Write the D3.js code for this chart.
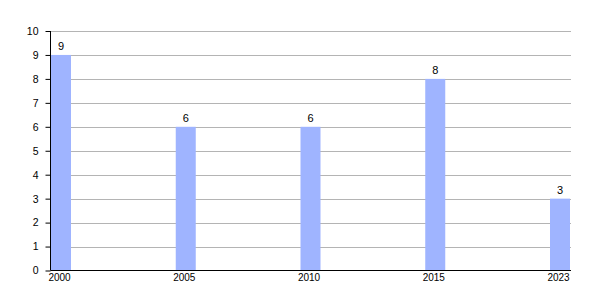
<!DOCTYPE html>
<html>
<head>
<meta charset="utf-8">
<script src="https://cdn.jsdelivr.net/npm/d3@7"></script>
<style>
  body { margin: 0; background: #fff; }
  text { font-family: "Liberation Sans", Arial, sans-serif; fill: #000; }
</style>
</head>
<body>
<svg id="chart" width="600" height="300"></svg>
<script>
const years = ["2000", "2005", "2010", "2015", "2023"];
const counts = [9, 6, 6, 8, 3];
const yTicks = [0, 1, 2, 3, 4, 5, 6, 7, 8, 9, 10];

const svg = d3.select('#chart');
const plotLeft = 50.5, plotRight = 571, plotTop = 31, plotBottom = 270.5;
const barWidth = 20;

const x = d3.scalePoint().domain(years).range([51, 550]);
const y = d3.scaleLinear().domain([0, 10]).range([plotBottom, plotTop]);

// gridlines
svg.append('g')
  .selectAll('line')
  .data(yTicks.filter(d => d > 0))
  .join('line')
  .attr('x1', plotLeft)
  .attr('x2', plotRight)
  .attr('y1', d => Math.round(y(d)) + 0.5)
  .attr('y2', d => Math.round(y(d)) + 0.5)
  .attr('stroke', '#b4b4b4')
  .attr('stroke-width', 1);

// bars
const data = years.map((yr, i) => ({ year: yr, value: counts[i] }));
svg.append('g')
  .selectAll('rect')
  .data(data)
  .join('rect')
  .attr('x', d => x(d.year))
  .attr('y', d => y(d.value))
  .attr('width', barWidth)
  .attr('height', d => y(0) - y(d.value))
  .attr('fill', '#9fb4ff');

// value labels
svg.append('g')
  .selectAll('text')
  .data(data)
  .join('text')
  .attr('x', d => x(d.year) + barWidth / 2)
  .attr('y', d => y(d.value) - 4.5)
  .attr('text-anchor', 'middle')
  .attr('font-size', 11)
  .text(d => d.value);

// y axis
const yAxis = svg.append('g')
  .attr('transform', `translate(${plotLeft},0)`)
  .call(d3.axisLeft(y).tickValues(yTicks).tickSize(5).tickPadding(7).tickFormat(d3.format('d')));
yAxis.select('.domain').attr('stroke', '#000').attr('d', `M0,${plotTop}V${plotBottom}`);
yAxis.selectAll('.tick line').attr('stroke', '#000');
yAxis.selectAll('.tick text').attr('font-size', 10.5).attr('font-family', '"Liberation Sans", Arial, sans-serif');

// x axis
svg.append('line')
  .attr('x1', plotLeft)
  .attr('x2', plotRight)
  .attr('y1', plotBottom)
  .attr('y2', plotBottom)
  .attr('stroke', '#000');

svg.append('g')
  .selectAll('text')
  .data(years)
  .join('text')
  .attr('x', d => x(d) + barWidth / 2 - 1.5)
  .attr('y', 281)
  .attr('text-anchor', 'middle')
  .attr('font-size', 10)
  .text(d => d);
</script>
</body>
</html>
